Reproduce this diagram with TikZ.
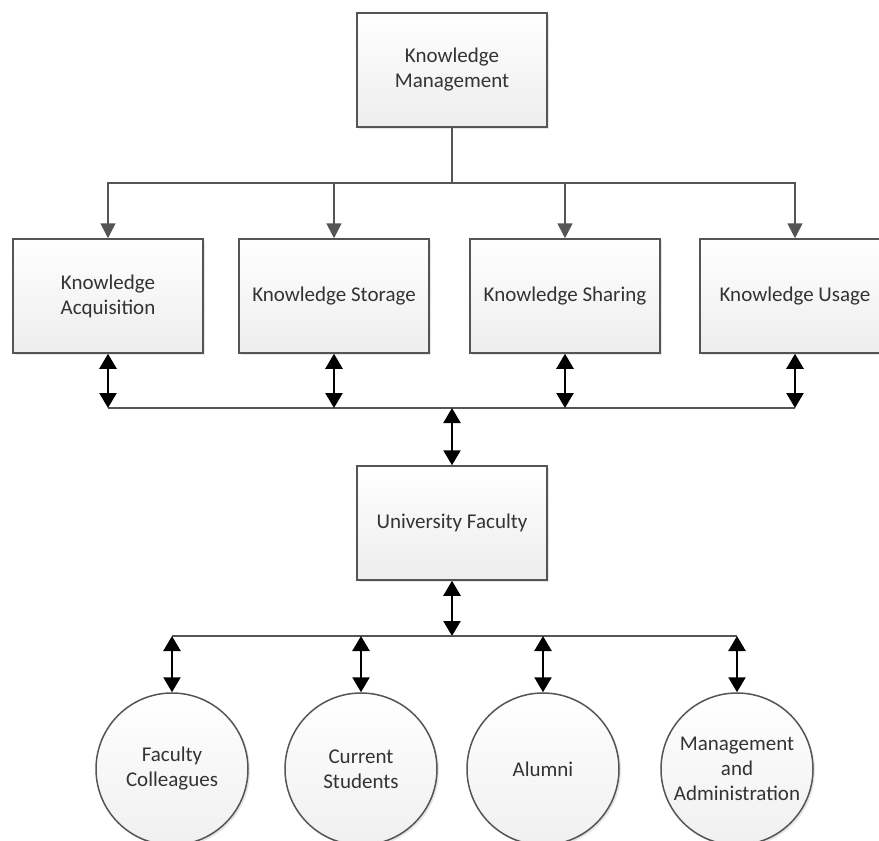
\documentclass[tikz,border=0pt]{standalone}
\usepackage{fontspec}
\setmainfont{Carlito}
\usetikzlibrary{arrows.meta,shadows}
\definecolor{linegray}{HTML}{555555}
\definecolor{textgray}{HTML}{333333}
\begin{document}
\begin{tikzpicture}[x=1pt, y=-1pt,
    kbox/.style = {shape=rectangle, draw=linegray, line width=1.5pt, top color=white, bottom color=gray!14,
                   minimum width=190pt, minimum height=114pt, align=center, text=textgray,
                   font=\fontsize{21}{25}\selectfont,
                   drop shadow={shadow xshift=2pt, shadow yshift=-2pt, opacity=0.2, fill=gray}},
    kcircle/.style = {shape=circle, draw=linegray, line width=1.5pt, top color=white, bottom color=gray!12,
                   minimum size=152pt, inner sep=0pt, align=center, text=textgray,
                   font=\fontsize{21}{25}\selectfont,
                   drop shadow={shadow xshift=2pt, shadow yshift=-2pt, opacity=0.2, fill=gray}},
    feed/.style = {draw=linegray, line width=1.6pt, -{Triangle[length=15pt, width=15pt]}},
    bus/.style = {draw=linegray, line width=1.6pt},
    link/.style = {draw=black, line width=2.4pt, {Triangle[length=15pt, width=17pt]}-{Triangle[length=15pt, width=17pt]}}]
\useasboundingbox (0,0) rectangle (879,841);

\node[kbox] (KM) at (452,70) {Knowledge\\Management};
\node[kbox] (KA) at (108,296) {Knowledge\\Acquisition};
\node[kbox] (KS) at (334,296) {Knowledge Storage};
\node[kbox] (KH) at (565,296) {Knowledge Sharing};
\node[kbox] (KU) at (795,296) {Knowledge Usage};
\node[kbox] (UF) at (452,523) {University Faculty};
\node[kcircle] (FC) at (172,769) {Faculty\\Colleagues};
\node[kcircle] (CS) at (361,769) {Current\\Students};
\node[kcircle] (AL) at (543,769) {Alumni};
\node[kcircle] (MA) at (737,769) {Management\\and\\Administration};

\coordinate (B1) at (452,183);
\coordinate (B2) at (452,408);
\coordinate (B3) at (452,636);

% management to the four processes
\draw[bus] (KM.south) -- (B1);
\draw[feed] (B1) -| (KA.north);
\draw[feed] (B1) -| (KS.north);
\draw[feed] (B1) -| (KH.north);
\draw[feed] (B1) -| (KU.north);

% processes to faculty
\draw[bus] (KA.south |- B2) -- (KU.south |- B2);
\draw[link] (KA.south) -- (KA.south |- B2);
\draw[link] (KS.south) -- (KS.south |- B2);
\draw[link] (KH.south) -- (KH.south |- B2);
\draw[link] (KU.south) -- (KU.south |- B2);
\draw[link] (B2) -- (UF.north);

% faculty to the stakeholders
\draw[link] (UF.south) -- (B3);
\draw[bus] (FC.north |- B3) -- (MA.north |- B3);
\draw[link] (FC.north |- B3) -- (FC.north);
\draw[link] (CS.north |- B3) -- (CS.north);
\draw[link] (AL.north |- B3) -- (AL.north);
\draw[link] (MA.north |- B3) -- (MA.north);
\end{tikzpicture}
\end{document}
